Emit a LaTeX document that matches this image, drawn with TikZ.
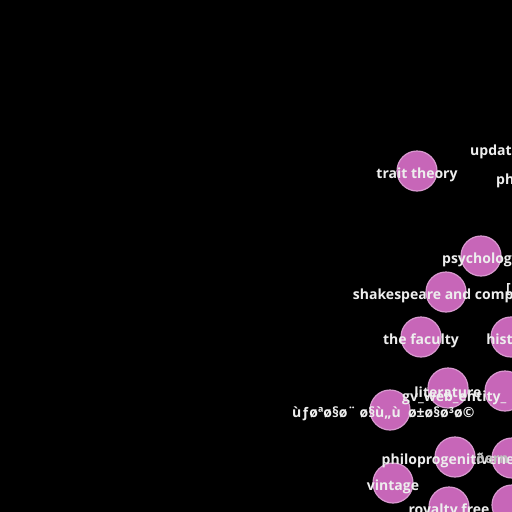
\documentclass[tikz,border=0pt]{standalone}
\usepackage{fontspec}
\setmainfont{Open Sans}
\usetikzlibrary{positioning}
\definecolor{orchidfill}{HTML}{C766B8}
\definecolor{orchidedge}{HTML}{D99AD0}
\definecolor{tagwhite}{HTML}{EEEEEE}
\tikzset{
  entity/.style={circle, draw=orchidedge, line width=1.2pt, fill=orchidfill, minimum size=40pt, inner sep=0pt},
  tag/.style={text=tagwhite, font=\fontsize{14}{14}\selectfont\bfseries, inner sep=0pt},
  every node/.style={}
}
\begin{document}
\begin{tikzpicture}[x=1pt,y=-1pt]
    \useasboundingbox (0,0) rectangle (512,512);
    \fill[black] (0,0) rectangle (512,512);
    \clip (0,0) rectangle (512,512);
    % entity circles
    \foreach \nm/\x/\y in {trait/417/171, psych/481/256, shake/446/292, faculty/421/337, hist/511/337,
                           lit/448/388, gv/505/391, arab/390/410, philo/455/457, gern/512/458,
                           vintage/393/483, royal/449/507, corner/512/505}{
        \node[entity] (\nm) at (\x,\y) {};
    }
    % labels centred on their circles
    \foreach \nm/\lab in {trait/trait theory, psych/psychology, shake/shakespeare and company,
                          faculty/the faculty, hist/history, lit/literature, philo/philoprogenitiveness,
                          vintage/vintage, royal/royalty free}{
        \node[tag] (\nm-tag) at ([yshift=-4pt]\nm) {\lab};
    }
    \node[tag, anchor=west] (gv-tag) at ([xshift=-103pt, yshift=-7pt]gv) {gv\_web\_entity\_};
    \node[tag, anchor=west] (arab-tag) at ([xshift=-98pt, yshift=-4pt]arab) {ùƒøªø§ø¨ ø§ù„ù\ \ ø±ø§ø³ø©};
    \node[tag, anchor=west, text=tagwhite!80!black] (gern-tag) at ([xshift=-36pt, yshift=0pt]gern) {ðern};
    \node[tag, anchor=west] (updat-tag) at (470,152) {updat};
    \node[tag, anchor=west] (ph-tag) at (496,181) {ph};
    \node[tag, anchor=west] (box-tag) at (506,290) {[};
\end{tikzpicture}
\end{document}
